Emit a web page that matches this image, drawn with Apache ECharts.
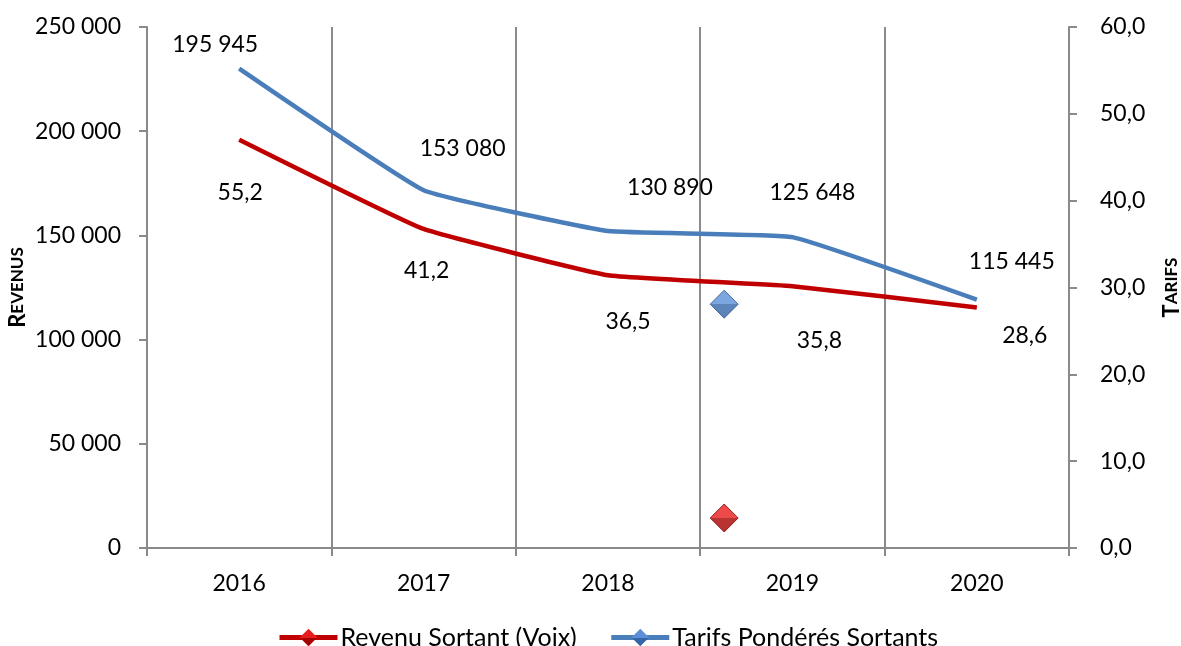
<!DOCTYPE html>
<html>
<head>
<meta charset="utf-8">
<script src="https://cdn.jsdelivr.net/npm/echarts@6/dist/echarts.min.js"></script>
<style>
	html, body { margin: 0; padding: 0; background: #fff; }
	#chart { width: 1181px; height: 646px; }
</style>
</head>
<body>
<div id="chart"></div>
<script>
// categories and values
const years = ["2016", "2017", "2018", "2019", "2020"];
const revenu = [195945, 153080, 130890, 125648, 115445];
const tarifs = [55.2, 41.2, 36.5, 35.8, 28.6];
// two loose diamonds sitting between 2018 and 2019 (x on a 0..5 scale, y on left axis)
const strayBlue = [[3.13, 117000]];
const strayRed = [[3.13, 14400]];

// where each data label sits relative to its point (px)
const revenuLabelOffsets = [[-24, -95], [39, -80], [62, -88], [20, -94], [35, -46]];
const tarifsLabelOffsets = [[1, 124], [3, 80], [20, 91], [27, 103], [48, 36]];

const FONT = "Lato";
const RED = "#C00000";
const BLUE = "#4A7EBB";
const GREY = "#8A8A8A";

const fmtThousands = (v) => String(Math.round(v)).replace(/\B(?=(\d{3})+(?!\d))/g, " ");
const fmtComma = (v) => Number(v).toFixed(1).replace(".", ",");

const chart = echarts.init(document.getElementById("chart"));

const diamondFill = (light, dark) => ({
	type: "linear", x: 0, y: 0, x2: 0, y2: 1,
	colorStops: [{ offset: 0, color: light }, { offset: 0.5, color: light }, { offset: 0.5, color: dark }, { offset: 1, color: dark }]
});
const blueDiamond = diamondFill("#5B90D8", "#3466A8");
const redDiamond = diamondFill("#E81C1C", "#A80000");

const option = {
	animation: false,
	textStyle: { fontFamily: FONT },
	grid: { left: 147, right: 112, top: 27, bottom: 98, outerBoundsMode: "none" },
	legend: {
		data: ["Revenu Sortant (Voix)", "Tarifs Pondérés Sortants"],
		left: 272,
		top: 620,
		itemWidth: 58,
		itemHeight: 22,
		itemGap: 32,
		lineStyle: { width: 5 },
		textStyle: { fontFamily: FONT, fontSize: 25, color: "#000", padding: [0, 0, 0, -2] }
	},
	xAxis: [
		{
			type: "category",
			data: years,
			axisLine: { lineStyle: { color: GREY, width: 2 } },
			axisTick: { show: true, length: 8, lineStyle: { color: GREY, width: 2 } },
			axisLabel: { margin: 24, fontSize: 23, color: "#000", fontFamily: FONT },
			splitLine: { show: true, lineStyle: { color: GREY, width: 2 } }
		},
		{
			type: "value",
			min: 0,
			max: 5,
			show: false
		}
	],
	yAxis: [
		{
			type: "value",
			min: 0,
			max: 250000,
			interval: 50000,
			position: "left",
			name: "{big|R}{small|EVENUS}",
			nameLocation: "middle",
			nameRotate: 90,
			nameGap: 118,
			nameMoveOverlap: false,
			nameTextStyle: {
				rich: {
					big: { fontSize: 22, fontWeight: "bold", fontFamily: FONT, color: "#000" },
					small: { fontSize: 17, fontWeight: "bold", fontFamily: FONT, color: "#000" }
				}
			},
			axisLine: { show: true, lineStyle: { color: GREY, width: 2 } },
			axisTick: { show: true, length: 8, lineStyle: { color: GREY, width: 2 } },
			axisLabel: { margin: 26, fontSize: 23, color: "#000", fontFamily: FONT, formatter: fmtThousands },
			splitLine: { show: false }
		},
		{
			type: "value",
			min: 0,
			max: 60,
			interval: 10,
			position: "right",
			name: "{big|T}{small|ARIFS}",
			nameLocation: "middle",
			nameRotate: 90,
			nameGap: 92,
			nameTextStyle: {
				rich: {
					big: { fontSize: 22, fontWeight: "bold", fontFamily: FONT, color: "#000" },
					small: { fontSize: 17, fontWeight: "bold", fontFamily: FONT, color: "#000" }
				}
			},
			axisLine: { show: true, lineStyle: { color: GREY, width: 2 } },
			axisTick: { show: true, length: 8, lineStyle: { color: GREY, width: 2 } },
			axisLabel: { margin: 31, fontSize: 23, color: "#000", fontFamily: FONT, formatter: fmtComma },
			splitLine: { show: false }
		}
	],
	series: [
		{
			name: "Revenu Sortant (Voix)",
			type: "line",
			yAxisIndex: 0,
			smooth: 0.1,
			symbol: "diamond",
			symbolSize: 1,
			itemStyle: { color: redDiamond },
			lineStyle: { color: RED, width: 4.5 },
			data: revenu.map((v, i) => ({
				value: v,
				label: { offset: revenuLabelOffsets[i] }
			})),
			label: {
				show: true,
				position: "inside",
				fontSize: 23,
				color: "#000",
				fontFamily: FONT,
				formatter: (p) => fmtThousands(p.value)
			}
		},
		{
			name: "Tarifs Pondérés Sortants",
			type: "line",
			yAxisIndex: 1,
			smooth: 0.1,
			symbol: "diamond",
			symbolSize: 1,
			itemStyle: { color: blueDiamond },
			lineStyle: { color: BLUE, width: 4.5 },
			data: tarifs.map((v, i) => ({
				value: v,
				label: { offset: tarifsLabelOffsets[i] }
			})),
			label: {
				show: true,
				position: "inside",
				fontSize: 23,
				color: "#000",
				fontFamily: FONT,
				formatter: (p) => fmtComma(p.value)
			}
		},
		{
			name: "strayBlue",
			type: "scatter",
			xAxisIndex: 1,
			yAxisIndex: 0,
			symbol: "diamond",
			symbolSize: [28, 28],
			itemStyle: { color: blueDiamond, borderColor: "#2A558C", borderWidth: 1 },
			data: strayBlue
		},
		{
			name: "strayRed",
			type: "scatter",
			xAxisIndex: 1,
			yAxisIndex: 0,
			symbol: "diamond",
			symbolSize: [28, 28],
			itemStyle: { color: redDiamond, borderColor: "#7E0000", borderWidth: 1 },
			data: strayRed
		}
	]
};

chart.setOption(option);
</script>
</body>
</html>
